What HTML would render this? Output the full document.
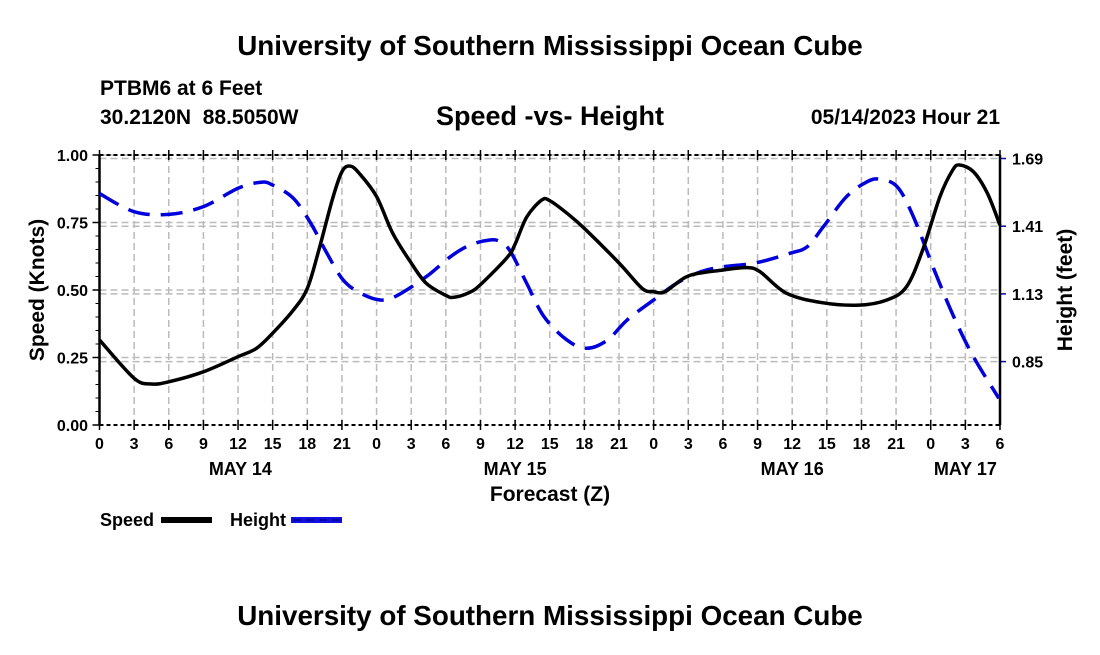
<!DOCTYPE html>
<html><head><meta charset="utf-8"><style>
body{margin:0;background:#fff;}
svg text{font-family:"Liberation Sans",Arial,sans-serif;font-weight:bold;fill:#000;}
</style></head><body>
<svg width="1100" height="650" viewBox="0 0 1100 650" xmlns="http://www.w3.org/2000/svg">
<text x="550" y="55" font-size="27.8" text-anchor="middle">University of Southern Mississippi Ocean Cube</text>
<text x="100" y="95" font-size="21">PTBM6 at 6 Feet</text>
<text x="100" y="124" font-size="21" xml:space="preserve">30.2120N  88.5050W</text>
<text x="550" y="125" font-size="27" text-anchor="middle">Speed -vs- Height</text>
<text x="1000" y="124" font-size="21" text-anchor="end">05/14/2023 Hour 21</text>
<g id="grid"></g>
<g id="axes"></g>
<g id="series"></g>
<text x="550" y="501" font-size="21" text-anchor="middle">Forecast (Z)</text>
<text transform="translate(44,290) rotate(-90)" font-size="21" text-anchor="middle">Speed (Knots)</text>
<text transform="translate(1072,290) rotate(-90)" font-size="21" text-anchor="middle">Height (feet)</text>
<g>
<text x="100" y="526" font-size="18">Speed</text>
<rect x="161" y="517" width="51" height="6" fill="#000"/>
<text x="230" y="526" font-size="18">Height</text>
<rect x="291" y="517" width="51" height="6" fill="#1010e0"/>
<line x1="293" y1="520" x2="340" y2="520" stroke="#000060" stroke-width="1" stroke-dasharray="8,5"/>
</g>
<text x="550" y="625" font-size="27.8" text-anchor="middle">University of Southern Mississippi Ocean Cube</text>
</svg>
<script>
const xTickLabels=["0","3","6","9","12","15","18","21","0","3","6","9","12","15","18","21","0","3","6","9","12","15","18","21","0","3","6"];
const dayLabels=["MAY 14","MAY 15","MAY 16","MAY 17"];
const dayHours=[12.2,36,60,75];
const speedTicks=[0,0.25,0.5,0.75,1.0];
const heightTicks=[0.85,1.13,1.41,1.69];
const speedHours=[0,3,4.5,6,9,12,13.6,15,16.8,18,19,20.2,21,21.7,22.5,24,25.4,27,28.3,30,30.7,32,33,35.3,36,37,38.3,39,40.5,42,45,47,48,49,51,54,56,57.2,59.5,62.6,65.8,68.2,69.9,71.3,72.8,73.9,74.5,75.7,76.9,78];
const speedValues=[0.315,0.173,0.152,0.16,0.197,0.253,0.284,0.34,0.426,0.506,0.648,0.84,0.938,0.959,0.932,0.846,0.71,0.6,0.525,0.48,0.473,0.49,0.52,0.62,0.67,0.77,0.833,0.831,0.784,0.728,0.6,0.506,0.494,0.494,0.552,0.574,0.583,0.568,0.488,0.453,0.444,0.463,0.512,0.648,0.846,0.944,0.963,0.938,0.859,0.74];
const heightHours=[0,3,6,9,12,14,15,16.8,18.3,19.7,21.1,22.6,24.3,25.7,28.3,30.4,32.1,33.8,34.7,35.6,37,38.5,40.5,42.2,44,45.7,48,50,52.1,54,56.9,59.8,61.3,62.7,64.7,66.5,67.6,69.1,70.5,72.3,74,75.7,77.9];
const heightValues=[1.545,1.47,1.459,1.491,1.567,1.592,1.58,1.525,1.422,1.298,1.188,1.133,1.105,1.121,1.201,1.284,1.332,1.353,1.346,1.305,1.174,1.036,0.939,0.905,0.939,1.022,1.105,1.174,1.222,1.242,1.259,1.298,1.325,1.408,1.532,1.594,1.604,1.573,1.449,1.229,1.035,0.87,0.698];

const NS="http://www.w3.org/2000/svg";
const L=99.5,R=1000,T=155,B=425;
const xs=h=>L+(R-L)*h/78;
const ys=v=>B-(B-T)*v;
const yh=f=>158.5+(1.69-f)/0.28*67.7;
function mk(tag,attrs,parent){const e=document.createElementNS(NS,tag);for(const k in attrs)e.setAttribute(k,attrs[k]);parent.appendChild(e);return e;}
const grid=document.getElementById('grid'),axes=document.getElementById('axes'),series=document.getElementById('series');
xTickLabels.forEach((t,i)=>{const x=xs(i*3);
 if(i>0&&i<26){const g=mk('line',{x1:x,y1:T,x2:x,y2:B,stroke:'#bbb','stroke-width':1.5,'stroke-dasharray':'7,4'},grid);
 
 }
 const tk=mk('line',{x1:x,y1:B-5,x2:x,y2:B+5,stroke:'#000','stroke-width':1.5},axes);
 
 
 const tk2=mk('line',{x1:x,y1:T-5,x2:x,y2:T+5,stroke:'#000','stroke-width':1.5},axes);
 
 
 const tx=mk('text',{x:x,y:449,'font-size':16,'text-anchor':'middle'},axes);tx.textContent=t;
 
 
});
dayLabels.forEach((d,i)=>{const tx=mk('text',{x:xs(dayHours[i]),y:475,'font-size':18,'text-anchor':'middle'},axes);tx.textContent=d;
 
 });
speedTicks.forEach(v=>{const y=ys(v);
 if(v>0){const g=mk('line',{x1:L,y1:y,x2:R,y2:y,stroke:'#bbb','stroke-width':1.5,'stroke-dasharray':'7,4'},grid);
 
 }
 const tk=mk('line',{x1:L-7,y1:y,x2:L,y2:y,stroke:'#000','stroke-width':1.5},axes);
 
 
 const tx=mk('text',{x:88,y:y+6,'font-size':16,'text-anchor':'end'},axes);tx.textContent=v.toFixed(2);
 
 
});
for(let v=0.05;v<1;v+=0.05){const m=mk('line',{x1:L-4,y1:ys(v),x2:L,y2:ys(v),stroke:'#000','stroke-width':1},axes);
 
 }
heightTicks.forEach(f=>{const y=yh(f);
 const g=mk('line',{x1:L,y1:y,x2:R,y2:y,stroke:'#bbb','stroke-width':1.5,'stroke-dasharray':'7,4'},grid);
 
 
 const tk=mk('line',{x1:R,y1:y,x2:R+6,y2:y,stroke:'#0000cc','stroke-width':1.5},axes);
 
 
 const tx=mk('text',{x:1012,y:y+6,'font-size':16},axes);tx.textContent=f.toFixed(2);
 
 
});
[[L,T,R,T],[L,B,R,B]].forEach(c=>{const l=mk('line',{x1:c[0],y1:c[1],x2:c[2],y2:c[3],stroke:'#000','stroke-width':2,'stroke-dasharray':'4,3'},axes);
 
 });
[L,R].forEach(x=>{const l=mk('line',{x1:x,y1:T,x2:x,y2:B,stroke:'#000','stroke-width':2.5},axes);
 
 });
function smooth(pts){let d='M'+pts[0][0]+','+pts[0][1];
 for(let i=0;i<pts.length-1;i++){const p0=pts[Math.max(0,i-1)],p1=pts[i],p2=pts[i+1],p3=pts[Math.min(pts.length-1,i+2)];
 const c1=[p1[0]+(p2[0]-p0[0])/6,p1[1]+(p2[1]-p0[1])/6],c2=[p2[0]-(p3[0]-p1[0])/6,p2[1]-(p3[1]-p1[1])/6];
 d+=' C'+c1[0]+','+c1[1]+' '+c2[0]+','+c2[1]+' '+p2[0]+','+p2[1];}return d;}
const hp=mk('path',{d:smooth(heightHours.map((h,i)=>[xs(h),yh(heightValues[i])])),fill:'none',stroke:'#0000dd','stroke-width':3.5,'stroke-dasharray':'22,11'},series);


const sp=mk('path',{d:smooth(speedHours.map((h,i)=>[xs(h),ys(speedValues[i])])),fill:'none',stroke:'#000','stroke-width':3.5},series);


</script>
</body></html>
